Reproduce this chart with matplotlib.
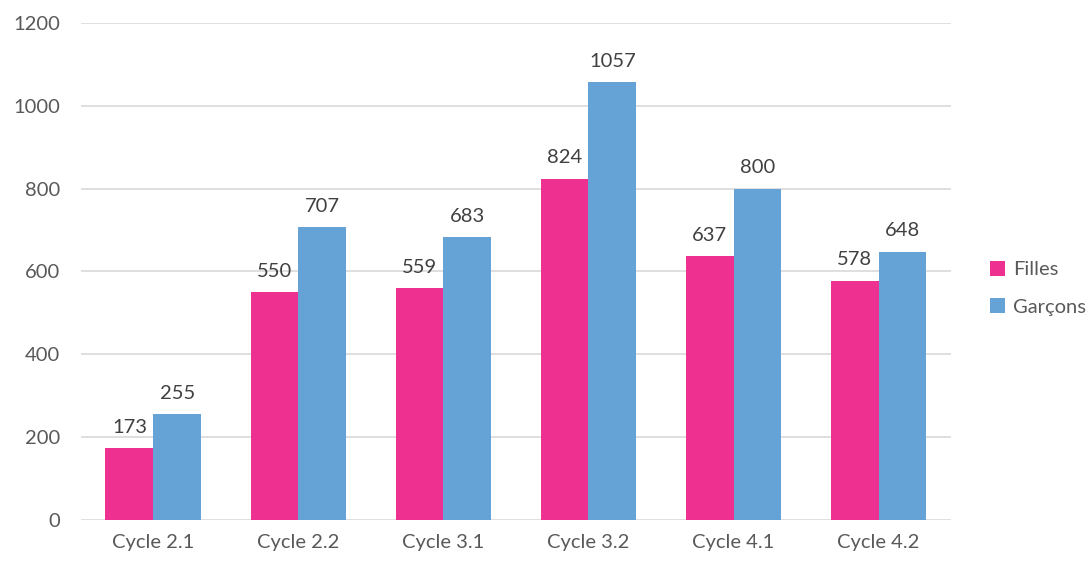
import matplotlib
matplotlib.use('Agg')
import matplotlib.pyplot as plt
import numpy as np

categories = ['Cycle 2.1', 'Cycle 2.2', 'Cycle 3.1', 'Cycle 3.2', 'Cycle 4.1', 'Cycle 4.2']
filles = [173, 550, 559, 824, 637, 578]
garcons = [255, 707, 683, 1057, 800, 648]
series_names = ['Filles', 'Garçons']

plt.rcParams['font.family'] = ['Lato', 'DejaVu Sans']

fig = plt.figure(figsize=(10.92, 5.62), dpi=100)
ax = fig.add_axes([0.074, 0.075, 0.797, 0.884])

x = np.arange(len(categories))
w = 0.33
pink = '#EE3091'
blue = '#65A2D5'
b1 = ax.bar(x - w/2, filles, w, color=pink, label=series_names[0], zorder=3)
b2 = ax.bar(x + w/2, garcons, w, color=blue, label=series_names[1], zorder=3)

for bars in (b1, b2):
	for rect in bars:
		h = rect.get_height()
		ax.text(rect.get_x() + rect.get_width()/2, h + 30, str(int(h)),
			ha='center', va='bottom', fontsize=14.5, color='#404040')

ax.set_xlim(-0.5, len(categories) - 0.5)
ax.set_ylim(0, 1200)
ax.set_yticks(np.arange(0, 1201, 200))
ax.set_xticks(x)
ax.set_xticklabels(categories)
ax.yaxis.grid(True, color='#D9D9D9', linewidth=1.2, zorder=0)
ax.set_axisbelow(True)
for s in ax.spines.values():
	s.set_visible(False)
ax.tick_params(axis='both', length=0, labelsize=14.5, labelcolor='#595959')
ax.tick_params(axis='y', pad=15)
ax.tick_params(axis='x', pad=10)

leg = fig.legend(handles=[b1, b2], labels=series_names, loc='center left',
	bbox_to_anchor=(0.89, 0.487), frameon=False, fontsize=14.5,
	handlelength=0.75, handleheight=0.75, handletextpad=0.4, labelspacing=1.0)
for t in leg.get_texts():
	t.set_color('#595959')

fig.savefig('out.png', dpi=100)
